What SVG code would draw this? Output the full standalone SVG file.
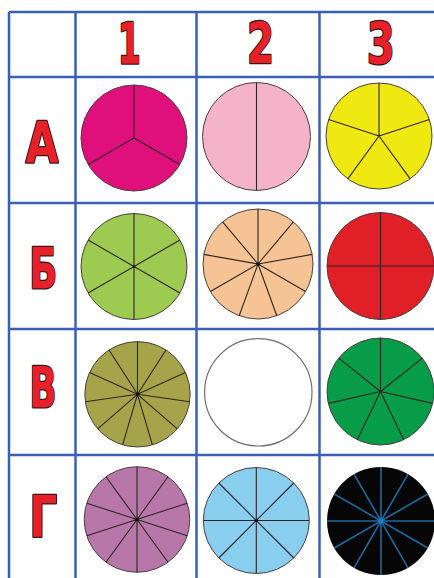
<svg xmlns="http://www.w3.org/2000/svg" width="434" height="578" viewBox="0 0 434 578">
<style>
.grid{stroke:#3b5fb4;stroke-width:2.5;fill:none}
.lbl{font-family:"DejaVu Sans","Liberation Sans",sans-serif;font-weight:bold;font-size:57px;fill:#e8202a;stroke:#3a1616;stroke-width:2.6;stroke-linejoin:round;paint-order:stroke;text-anchor:middle}
.disc{stroke:#4a4040;stroke-width:1}
.sp{stroke:#2e2424;stroke-width:1.1;fill:none}
.spb{stroke:#1c6aa0;stroke-width:1.6;fill:none}
</style>
<rect width="434" height="578" fill="#ffffff"/>
<g id="grid" class="grid">
<line x1="9" y1="12" x2="434" y2="12"/>
<line x1="9" y1="77" x2="434" y2="77"/>
<line x1="9" y1="203" x2="434" y2="203"/>
<line x1="9" y1="329" x2="434" y2="329"/>
<line x1="9" y1="455" x2="434" y2="455"/>
<line x1="9" y1="12" x2="9" y2="578"/>
<line x1="75.5" y1="12" x2="75.5" y2="578"/>
<line x1="196.5" y1="12" x2="196.5" y2="578"/>
<line x1="319.5" y1="12" x2="319.5" y2="578"/>
</g>
<g id="headers">
<text class="lbl" x="129.3" y="64" textLength="23" lengthAdjust="spacingAndGlyphs">1</text>
<text class="lbl" x="260.5" y="64" textLength="27" lengthAdjust="spacingAndGlyphs">2</text>
<text class="lbl" x="380.8" y="64" textLength="28" lengthAdjust="spacingAndGlyphs">3</text>
</g>
<g id="rowlabels">
<text class="lbl" x="42" y="163.3" textLength="33" lengthAdjust="spacingAndGlyphs">А</text>
<text class="lbl" x="43.3" y="289.3" textLength="28" lengthAdjust="spacingAndGlyphs">Б</text>
<text class="lbl" x="42.9" y="408.3" textLength="27" lengthAdjust="spacingAndGlyphs">В</text>
<text class="lbl" x="43.3" y="537.3" textLength="28" lengthAdjust="spacingAndGlyphs">Г</text>
</g>
<g id="A1">
<circle class="disc" cx="134" cy="138" r="53" fill="#df0f7c"/>
<path class="sp" d="M134 138V85M134 138L179.9 164.5M134 138L88.1 164.5"/>
</g>
<g id="A2">
<circle class="disc" cx="256.5" cy="136.5" r="54" fill="#f5b3ca"/>
<path class="sp" d="M256.5 82.5V190.5" stroke="#6a5a5e" stroke-width="1.6"/>
</g>
<g id="A3">
<circle class="disc" cx="379" cy="136" r="53" fill="#f0e811"/>
<path class="sp" d="M379 136V83M379 136L429.4 119.6M379 136L410.2 178.9M379 136L347.8 178.9M379 136L328.6 119.6"/>
</g>
<g id="B1">
<circle class="disc" cx="134" cy="266.5" r="53" fill="#9dcb52"/>
<path class="sp" d="M134 213.5V319.5M179.9 240L88.1 293M179.9 293L88.1 240"/>
<circle cx="134" cy="266.5" r="1.3" fill="#1a1a1a"/>
</g>
<g id="B2">
<circle class="disc" cx="258" cy="264" r="55" fill="#f6c494"/>
<path class="sp" d="M258 264V209M258 264L293.4 221.9M258 264L312.2 254.4M258 264L305.6 291.5M258 264L276.8 315.7M258 264L239.2 315.7M258 264L210.4 291.5M258 264L203.8 254.4M258 264L222.6 221.9"/>
<circle cx="258" cy="264" r="1.6" fill="#111"/>
</g>
<g id="B3">
<circle class="disc" cx="380.5" cy="266" r="53.5" fill="#e11f27"/>
<path class="sp" d="M380.5 212.5V319.5M327 266H434" stroke="#5a1a1a"/>
</g>
<g id="C1">
<circle class="disc" cx="137.5" cy="394.3" r="52.7" fill="#a6a44b"/>
<path class="sp" d="M137.5 394.3V341.6M137.5 394.3L166 350M137.5 394.3L185.4 372.4M137.5 394.3L189.7 401.8M137.5 394.3L177.3 428.8M137.5 394.3L152.4 444.9M137.5 394.3L122.6 444.9M137.5 394.3L97.7 428.8M137.5 394.3L85.3 401.8M137.5 394.3L89.6 372.4M137.5 394.3L109 350"/>
<circle cx="137.5" cy="394.3" r="1.6" fill="#111"/>
</g>
<g id="C2">
<circle cx="258.3" cy="392.3" r="53.7" fill="#ffffff" stroke="#6e6e6e" stroke-width="1.2"/>
</g>
<g id="C3">
<circle class="disc" cx="380.5" cy="391.5" r="53.5" fill="#079c48"/>
<path class="sp" d="M380.5 391.5V338M380.5 391.5L422.3 358.1M380.5 391.5L432.7 403.4M380.5 391.5L403.7 439.7M380.5 391.5L357.3 439.7M380.5 391.5L328.3 403.4M380.5 391.5L338.7 358.1"/>
</g>
<g id="D1">
<circle class="disc" cx="137" cy="519.5" r="52.8" fill="#b877a9"/>
<path class="sp" d="M137 466.7V572.3M168 476.8L106 562.2M187.2 503.2L86.8 535.8M187.2 535.8L86.8 503.2M168 562.2L106 476.8"/>
<circle cx="137" cy="519.5" r="1.6" fill="#111"/>
</g>
<g id="D2">
<circle class="disc" cx="256.3" cy="520.5" r="53" fill="#89cdef"/>
<path class="sp" d="M256.3 467.5V573.5M203.3 520.5H309.3M218.8 483L293.8 558M293.8 483L218.8 558" stroke="#2f3a40"/>
<circle cx="256.3" cy="520.5" r="1.4" fill="#111"/>
</g>
<g id="D3">
<circle cx="381" cy="521" r="54" fill="#060606"/>
<path class="spb" d="M327 521H435M381 467V575M427.8 548L334.2 494M408 567.8L354 474.2M354 567.8L408 474.2M334.2 548L427.8 494"/>
<circle cx="381" cy="521" r="2.4" fill="#1c80c0"/>
</g>
</svg>
